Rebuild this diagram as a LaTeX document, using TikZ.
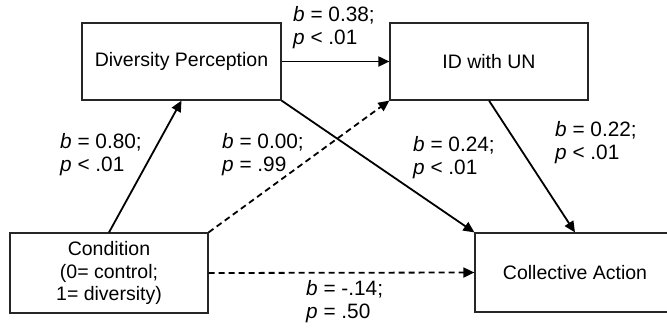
\documentclass[tikz,border=0pt]{standalone}
\usepackage{fontspec}
\setmainfont{Liberation Sans}
\usetikzlibrary{arrows.meta}
\begin{document}
\begin{tikzpicture}[x=1pt,y=-1pt,
  box/.style={draw=black!85, line width=1.2pt, inner sep=0pt, align=center, font=\fontsize{19.5}{22.5}\selectfont},
  lab/.style={anchor=west, inner sep=0pt, align=left, font=\fontsize{20.8}{23}\selectfont},
  conn/.style={line width=1.8pt, -{Triangle[length=11pt,width=10pt]}},
  dconn/.style={conn, dash pattern=on 6pt off 4pt}]
\useasboundingbox (0,0) rectangle (667,328);
\node[box, minimum width=199pt, minimum height=77pt] (div) at (181.5,61.5) {Diversity Perception};
\node[box, minimum width=198pt, minimum height=77pt] (id) at (489,61.5) {ID with UN};
\node[box, minimum width=198pt, minimum height=80pt] (cond) at (109,273) {Condition\\(0= control;\\1= diversity)};
\node[box, minimum width=200pt, minimum height=79pt] (ca) at (575,272.5) {Collective Action};
\draw[conn] (cond.north) -- (div.south);
\draw[conn] (div.east) -- (id.west);
\draw[conn] (div.south east) -- (ca.north west);
\draw[dconn] (cond.north east) -- (id.south west);
\draw[conn] (id.south) -- (ca.north);
\draw[dconn] (cond.east) -- (ca.west);
\node[lab] (l1) at (293,28) {\textit{b} = 0.38;\\\textit{p} < .01};
\node[lab] (l2) at (60,154.5) {\textit{b} = 0.80;\\\textit{p} < .01};
\node[lab] (l3) at (222,154.5) {\textit{b} = 0.00;\\\textit{p} = .99};
\node[lab] (l4) at (413,158) {\textit{b} = 0.24;\\\textit{p} < .01};
\node[lab] (l5) at (555,142.5) {\textit{b} = 0.22;\\\textit{p} < .01};
\node[lab] (l6) at (306,301.5) {\textit{b} = -.14;\\\textit{p} = .50};
\end{tikzpicture}
\end{document}
